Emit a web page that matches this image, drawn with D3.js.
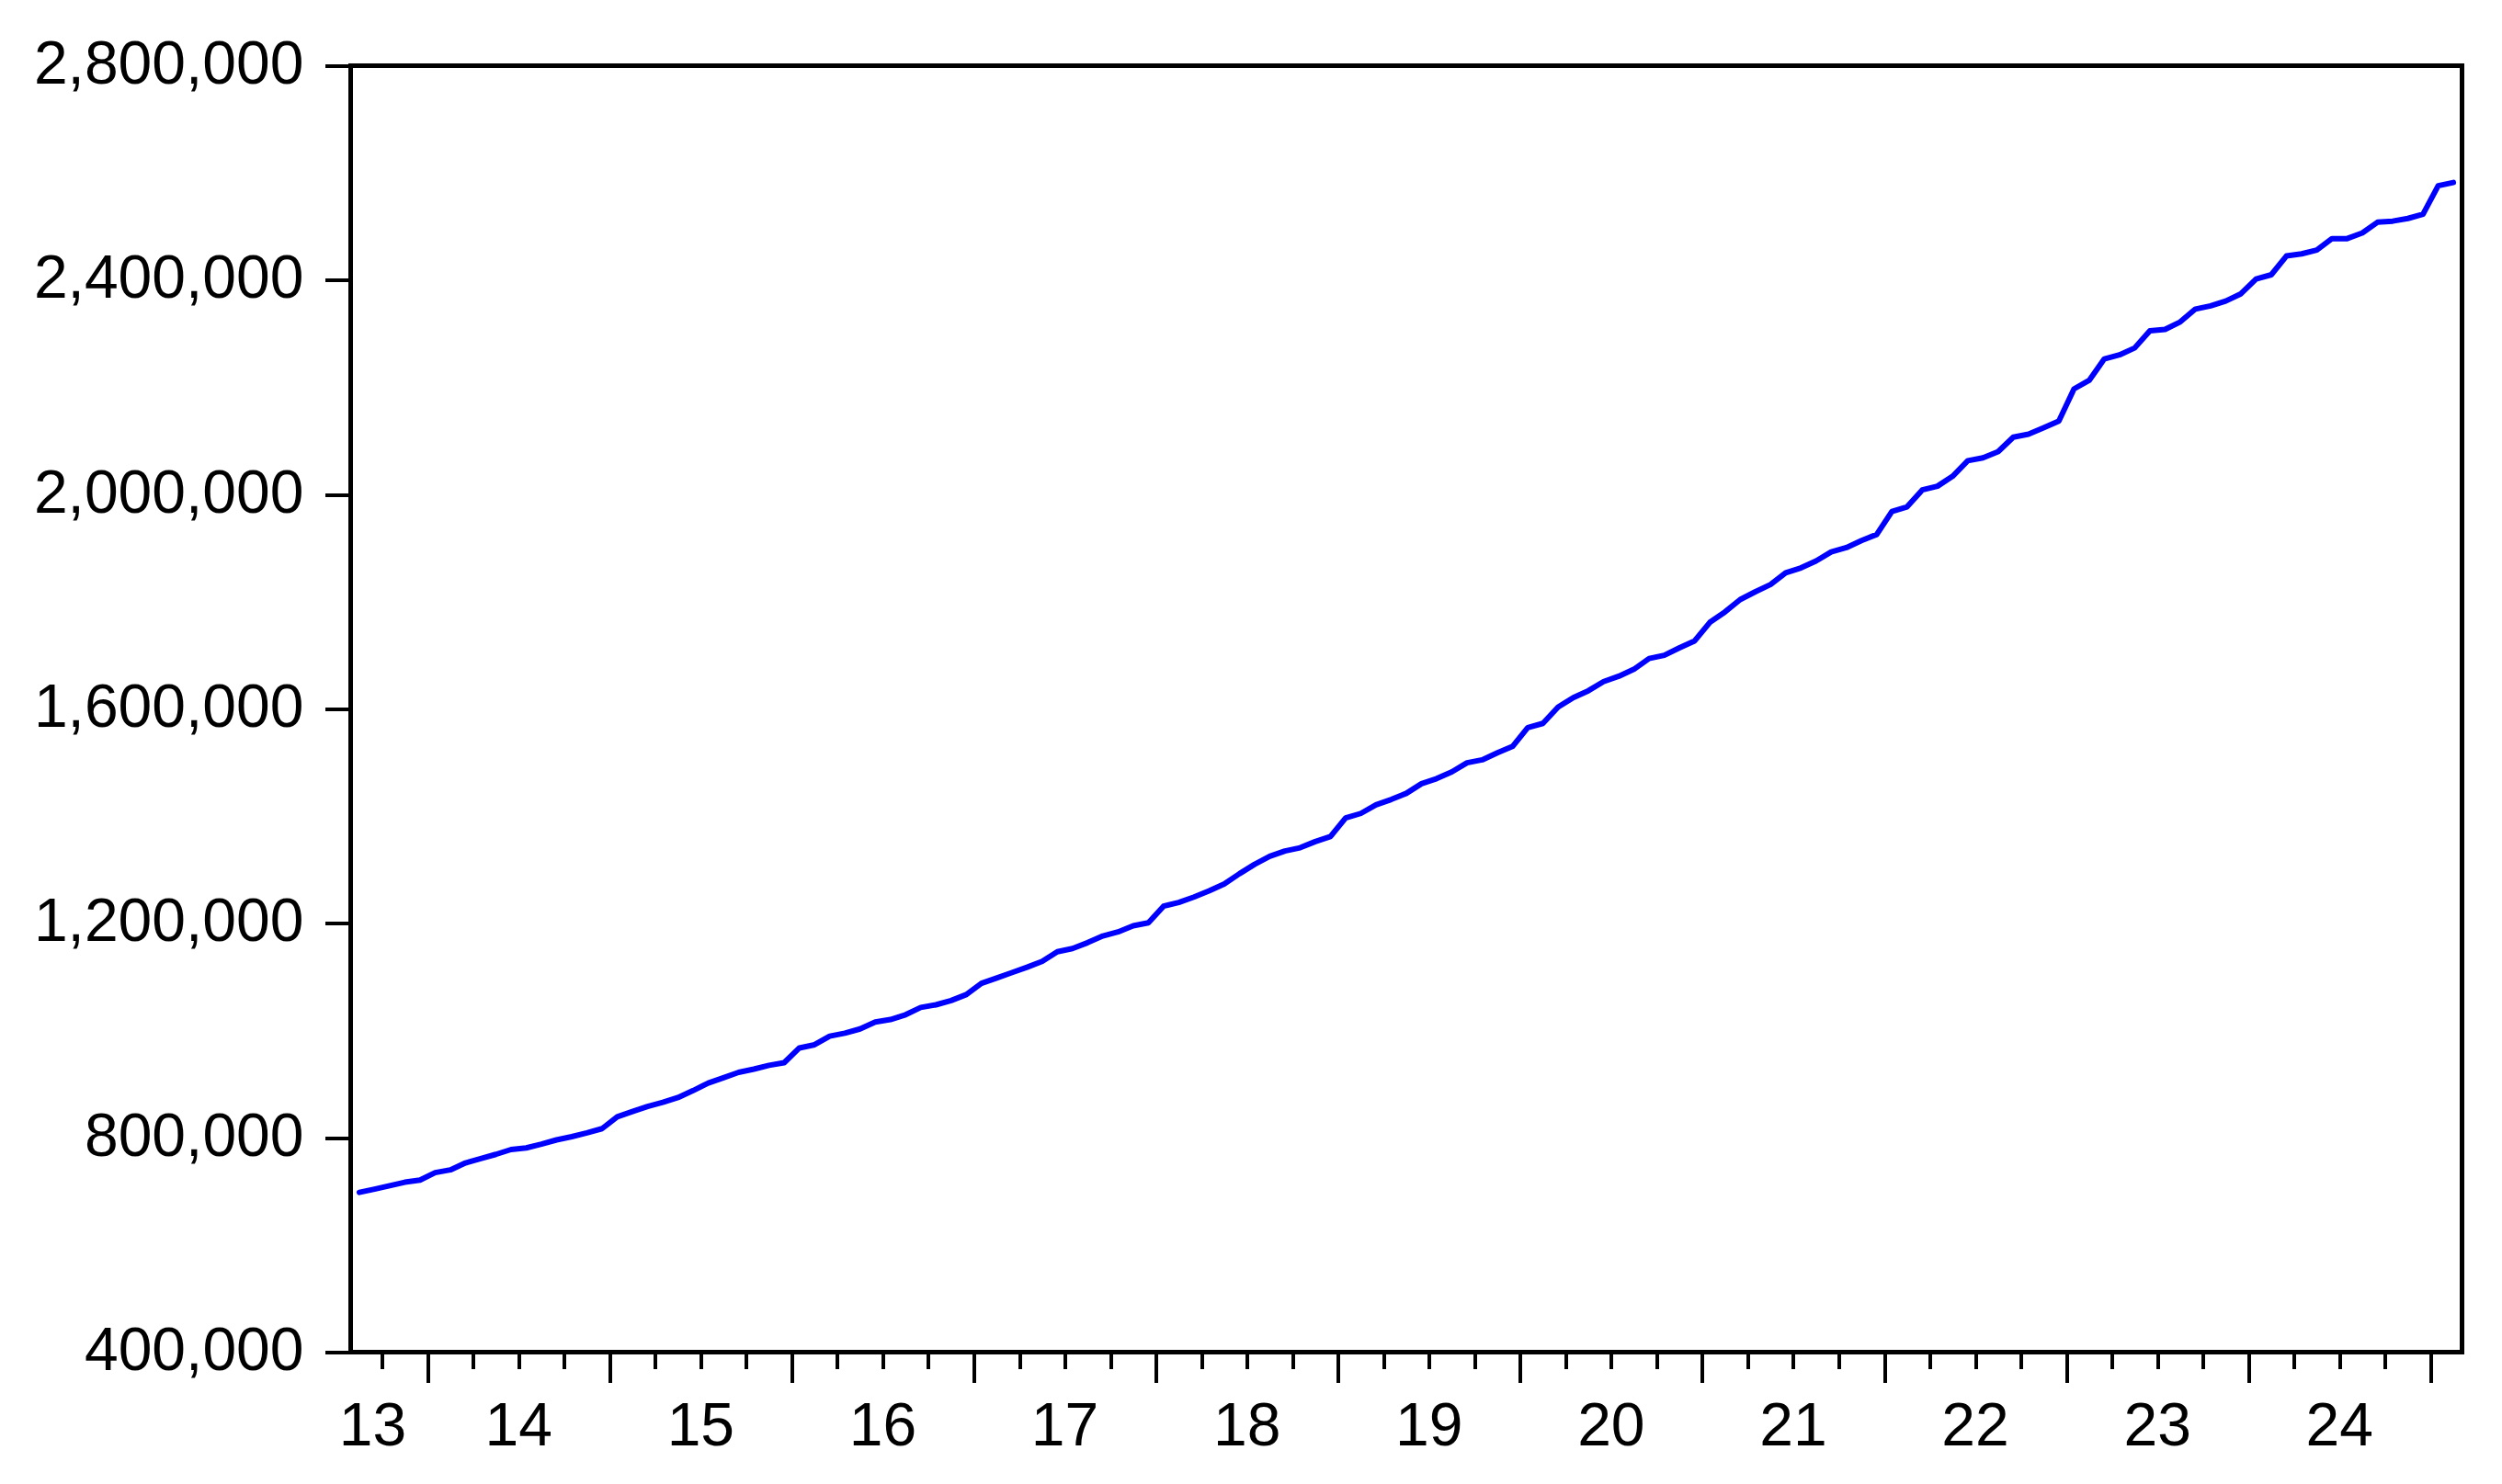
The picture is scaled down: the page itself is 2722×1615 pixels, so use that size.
<!DOCTYPE html>
<html>
<head>
<meta charset="utf-8">
<script src="https://cdn.jsdelivr.net/npm/d3@7"></script>
<style>
  html, body { margin: 0; padding: 0; background: #ffffff; }
  svg { display: block; }
  text { font-family: "Liberation Sans", Arial, sans-serif; fill: #000; }
</style>
</head>
<body>
<svg id="chart" width="2722" height="1615"></svg>
<script>
// ---- data (monthly, Aug 2013 .. Feb 2025) ----
const startYear = 2013;
const startMonth = 8; // August
const values = [
  698000, 704000, 710500, 717000, 721000,
  735000, 740000, 753000, 761000, 769000, 778000, 781000, 788000, 796000, 802000, 809000, 817000,
  839000, 849000, 858500, 866000, 875000, 888000, 902000, 912000, 922000, 928000, 935000, 940000,
  967500, 973500, 989500, 995000, 1003000, 1016000, 1020500, 1029500, 1043000, 1048000, 1056000, 1067000,
  1088000, 1098000, 1108000, 1118000, 1129000, 1147000, 1153000, 1164000, 1176500, 1184000, 1195500, 1201000,
  1232000, 1239000, 1249000, 1260500, 1273500, 1292500, 1310000, 1325000, 1335000, 1341000, 1352500, 1362000,
  1396500, 1405000, 1421000, 1431000, 1442500, 1460500, 1470000, 1482500, 1499500, 1505000, 1518000, 1530000,
  1565000, 1573000, 1603500, 1621000, 1634000, 1651000, 1661000, 1674000, 1694000, 1700000, 1714000, 1727000,
  1761500, 1781000, 1804000, 1818500, 1832000, 1854000, 1863000, 1876000, 1893000, 1901000, 1914000, 1925500,
  1968500, 1977000, 2008500, 2015500, 2034000, 2063000, 2068500, 2080000, 2107000, 2112500, 2124500, 2137000,
  2197000, 2213000, 2253000, 2260500, 2273500, 2305500, 2308000, 2322000, 2346000, 2352000, 2361000, 2374500,
  2402000, 2410000, 2445000, 2449000, 2456000, 2477500, 2477500, 2488000, 2508000, 2510000, 2515000, 2523000,
  2576000, 2582000
];
const yTicks = [400000, 800000, 1200000, 1600000, 2000000, 2400000, 2800000];
const yearLabels = ["13", "14", "15", "16", "17", "18", "19", "20", "21", "22", "23", "24"];

(function () {
  // ---- layout ----
  const pLeft = 381.5, pRight = 2678.5, pTop = 71.5, pBottom = 1471.5;
  const pad = 0.57;

  const data = values.map((v, i) => {
    const m0 = (startMonth - 1) + i;
    return { i, year: startYear + Math.floor(m0 / 12), month: (m0 % 12) + 1, v };
  });
  const n = data.length;

  const x = d3.scaleLinear().domain([-pad, n - 1 + pad]).range([pLeft, pRight]);
  const y = d3.scaleLinear().domain([400000, 2800000]).range([pBottom, pTop]);

  const svg = d3.select("#chart");

  // boundaries between observations (quarter starts)
  const majorB = [], minorB = [];
  for (let i = 1; i <= n; i++) {
    const m0 = (startMonth - 1) + i;
    const mon = (m0 % 12) + 1;
    const b = i - 0.5;
    if (x(b) > pRight) continue;
    if (mon === 1) majorB.push(b);
    else if (mon === 4 || mon === 7 || mon === 10) minorB.push(b);
  }

  const tickStroke = 4;

  // y axis
  const yAxis = d3.axisLeft(y).tickValues(yTicks).tickSize(28).tickPadding(24)
    .tickFormat(d3.format(",.0f"));
  const gy = svg.append("g").attr("transform", `translate(${pLeft},0)`).call(yAxis);
  gy.select(".domain").remove();
  gy.selectAll(".tick line").attr("stroke", "#000").attr("stroke-width", tickStroke)
    .attr("shape-rendering", "crispEdges");
  gy.selectAll(".tick text")
    .attr("font-size", 66)
    .attr("font-family", '"Liberation Sans", Arial, sans-serif')
    .attr("fill", "#000")
    .attr("dy", null)
    .attr("y", 19)
    .attr("x", -51);

  // x axis: minor ticks
  const gxMinor = svg.append("g").attr("transform", `translate(0,${pBottom})`)
    .call(d3.axisBottom(x).tickValues(minorB).tickSize(18.5).tickFormat(""));
  gxMinor.select(".domain").remove();
  gxMinor.selectAll(".tick line").attr("stroke", "#000").attr("stroke-width", tickStroke)
    .attr("shape-rendering", "crispEdges");

  // x axis: major ticks
  const gxMajor = svg.append("g").attr("transform", `translate(0,${pBottom})`)
    .call(d3.axisBottom(x).tickValues(majorB).tickSize(33.5).tickFormat(""));
  gxMajor.select(".domain").remove();
  gxMajor.selectAll(".tick line").attr("stroke", "#000").attr("stroke-width", tickStroke)
    .attr("shape-rendering", "crispEdges");

  // year labels centered on each year's span
  const years = Array.from(new Set(data.map(d => d.year)));
  const labelG = svg.append("g");
  years.forEach((yr, k) => {
    if (k >= yearLabels.length) return;
    const first = (yr - startYear) * 12 - (startMonth - 1); // index of Jan of that year
    const a = x(first - 0.5), b = x(first + 11.5);
    let cx = (a + b) / 2;
    cx = Math.max(cx, pLeft + 24);
    labelG.append("text")
      .attr("x", cx)
      .attr("y", 1573)
      .attr("text-anchor", "middle")
      .attr("font-size", 66)
      .text(yearLabels[k]);
  });

  // line
  const line = d3.line().x(d => x(d.i)).y(d => y(d.v));
  svg.append("path")
    .datum(data)
    .attr("d", line)
    .attr("fill", "none")
    .attr("stroke", "#0000ff")
    .attr("stroke-width", 6)
    .attr("stroke-linejoin", "round")
    .attr("stroke-linecap", "round");

  // frame
  svg.append("rect")
    .attr("x", pLeft).attr("y", pTop)
    .attr("width", pRight - pLeft).attr("height", pBottom - pTop)
    .attr("fill", "none")
    .attr("stroke", "#000")
    .attr("stroke-width", 5)
    .attr("shape-rendering", "crispEdges");
})();
</script>
</body>
</html>
